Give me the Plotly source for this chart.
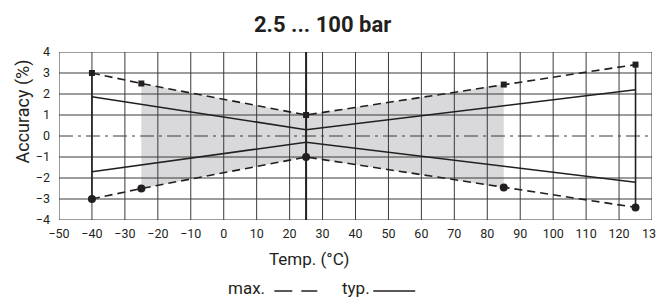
import plotly.graph_objects as go

# ---- data ----
temps_max = [-40, -25, 25, 85, 125]
max_upper = [3.0, 2.5, 1.0, 2.45, 3.4]
max_lower = [-3.0, -2.5, -1.0, -2.45, -3.4]
temps_typ = [-40, 25, 125]
typ_upper = [1.87, 0.3, 2.2]
typ_lower = [-1.7, -0.3, -2.2]
ref_temp = 25
x_ticks = list(range(-50, 131, 10))
y_ticks = list(range(-4, 5, 1))

FONT = "Roboto, DejaVu Sans Condensed, sans-serif"
DARK = "#231f20"
GRID = "#3a3a3a"

W, H = 656, 300
L, R, T, B = 58.5, 4, 52, 80
PW, PH = W - L - R, H - T - B


def px(x):
    return (x - L) / PW


def py(y):
    return (H - B - y) / PH


fig = go.Figure()

# shaded region between max lines (-25 .. 85)
sx = temps_max[1:4]
path = "M " + " L ".join(f"{x},{y}" for x, y in zip(sx, max_upper[1:4]))
path += " L " + " L ".join(f"{x},{y}" for x, y in zip(sx[::-1], max_lower[1:4][::-1])) + " Z"
shapes = [dict(type="path", path=path, xref="x", yref="y", fillcolor="#d9d9db",
               line=dict(width=0), layer="below")]

# grid lines
for xv in x_ticks:
    shapes.append(dict(type="line", xref="x", yref="y", x0=xv, x1=xv, y0=y_ticks[0], y1=y_ticks[-1],
                       line=dict(color=GRID, width=1), layer="below"))
for yv in y_ticks:
    dash = "14px,5px,3px,5px" if yv == 0 else "solid"
    shapes.append(dict(type="line", xref="x", yref="y", x0=x_ticks[0], x1=x_ticks[-1], y0=yv, y1=yv,
                       line=dict(color=GRID, width=1, dash=dash), layer="below"))

# reference vertical line at 25 °C
shapes.append(dict(type="line", xref="x", yref="y", x0=ref_temp, x1=ref_temp, y0=y_ticks[0], y1=y_ticks[-1],
                   line=dict(color=DARK, width=2), layer="above"))

# max lines (dashed)
fig.add_trace(go.Scatter(x=temps_max, y=max_upper, mode="lines+markers",
                         line=dict(color=DARK, width=1.6, dash="8px,5px"),
                         marker=dict(symbol="square", size=6, color=DARK), showlegend=False))
fig.add_trace(go.Scatter(x=temps_max, y=max_lower, mode="lines+markers",
                         line=dict(color=DARK, width=1.6, dash="8px,5px"),
                         marker=dict(symbol="circle", size=8, color=DARK), showlegend=False))
# vertical end lines
for i in (0, -1):
    fig.add_trace(go.Scatter(x=[temps_max[i], temps_max[i]], y=[max_upper[i], max_lower[i]], mode="lines",
                             line=dict(color=DARK, width=1.6), showlegend=False))
# typ lines (solid)
fig.add_trace(go.Scatter(x=temps_typ, y=typ_upper, mode="lines",
                         line=dict(color=DARK, width=1.6), showlegend=False))
fig.add_trace(go.Scatter(x=temps_typ, y=typ_lower, mode="lines",
                         line=dict(color=DARK, width=1.6), showlegend=False))

# legend drawn manually (text before line sample)
LY = py(291)
for a, b in [(274, 292), (301, 317), (373, 415)]:
    shapes.append(dict(type="line", xref="paper", yref="paper", x0=px(a), x1=px(b), y0=LY, y1=LY,
                       line=dict(color=DARK, width=1.5)))

tfont = dict(family=FONT, size=17, color=DARK)
annotations = [
    dict(text="max.", xref="paper", yref="paper", x=px(267), y=py(288), xanchor="right",
         yanchor="middle", showarrow=False, font=tfont),
    dict(text="typ.", xref="paper", yref="paper", x=px(372), y=py(288), xanchor="right",
         yanchor="middle", showarrow=False, font=tfont),
    dict(text="Temp. (°C)", xref="paper", yref="paper", x=px(309), y=py(259), xanchor="center",
         yanchor="middle", showarrow=False, font=tfont),
    dict(text="Accuracy (%)", xref="paper", yref="paper", x=px(22), y=py(112), xanchor="center",
         yanchor="middle", showarrow=False, textangle=-90, font=dict(family=FONT, size=18, color=DARK)),
    dict(text="<b>2.5 ... 100 bar</b>", xref="paper", yref="paper", x=px(322), y=py(25),
         xanchor="center", yanchor="middle", showarrow=False, font=dict(family=FONT, size=22, color=DARK)),
    # last tick label (cut by page edge as in the reference)
    dict(text=str(x_ticks[-1]), xref="x", yref="paper", x=x_ticks[-1], y=py(233), xanchor="center",
         yanchor="middle", showarrow=False, font=dict(family=FONT, size=12.5, color=DARK)),
]

fig.update_layout(
    width=W, height=H,
    margin=dict(l=L, r=R, t=T, b=B, autoexpand=False),
    paper_bgcolor="white", plot_bgcolor="white",
    shapes=shapes, annotations=annotations,
    font=dict(family=FONT, size=12.5, color=DARK),
    xaxis=dict(range=[x_ticks[0], x_ticks[-1]], tickvals=x_ticks[:-1], showgrid=False, zeroline=False,
               showline=False, ticks="", ticklabelstandoff=4, automargin=False),
    yaxis=dict(range=[y_ticks[0], y_ticks[-1]], tickvals=y_ticks, showgrid=False, zeroline=False,
               showline=False, ticks="", ticklabelstandoff=8, automargin=False),
)

fig.write_html("out.html", config={"displayModeBar": False},
               post_script="document.body.style.margin='0px';document.body.style.overflow='hidden';")
